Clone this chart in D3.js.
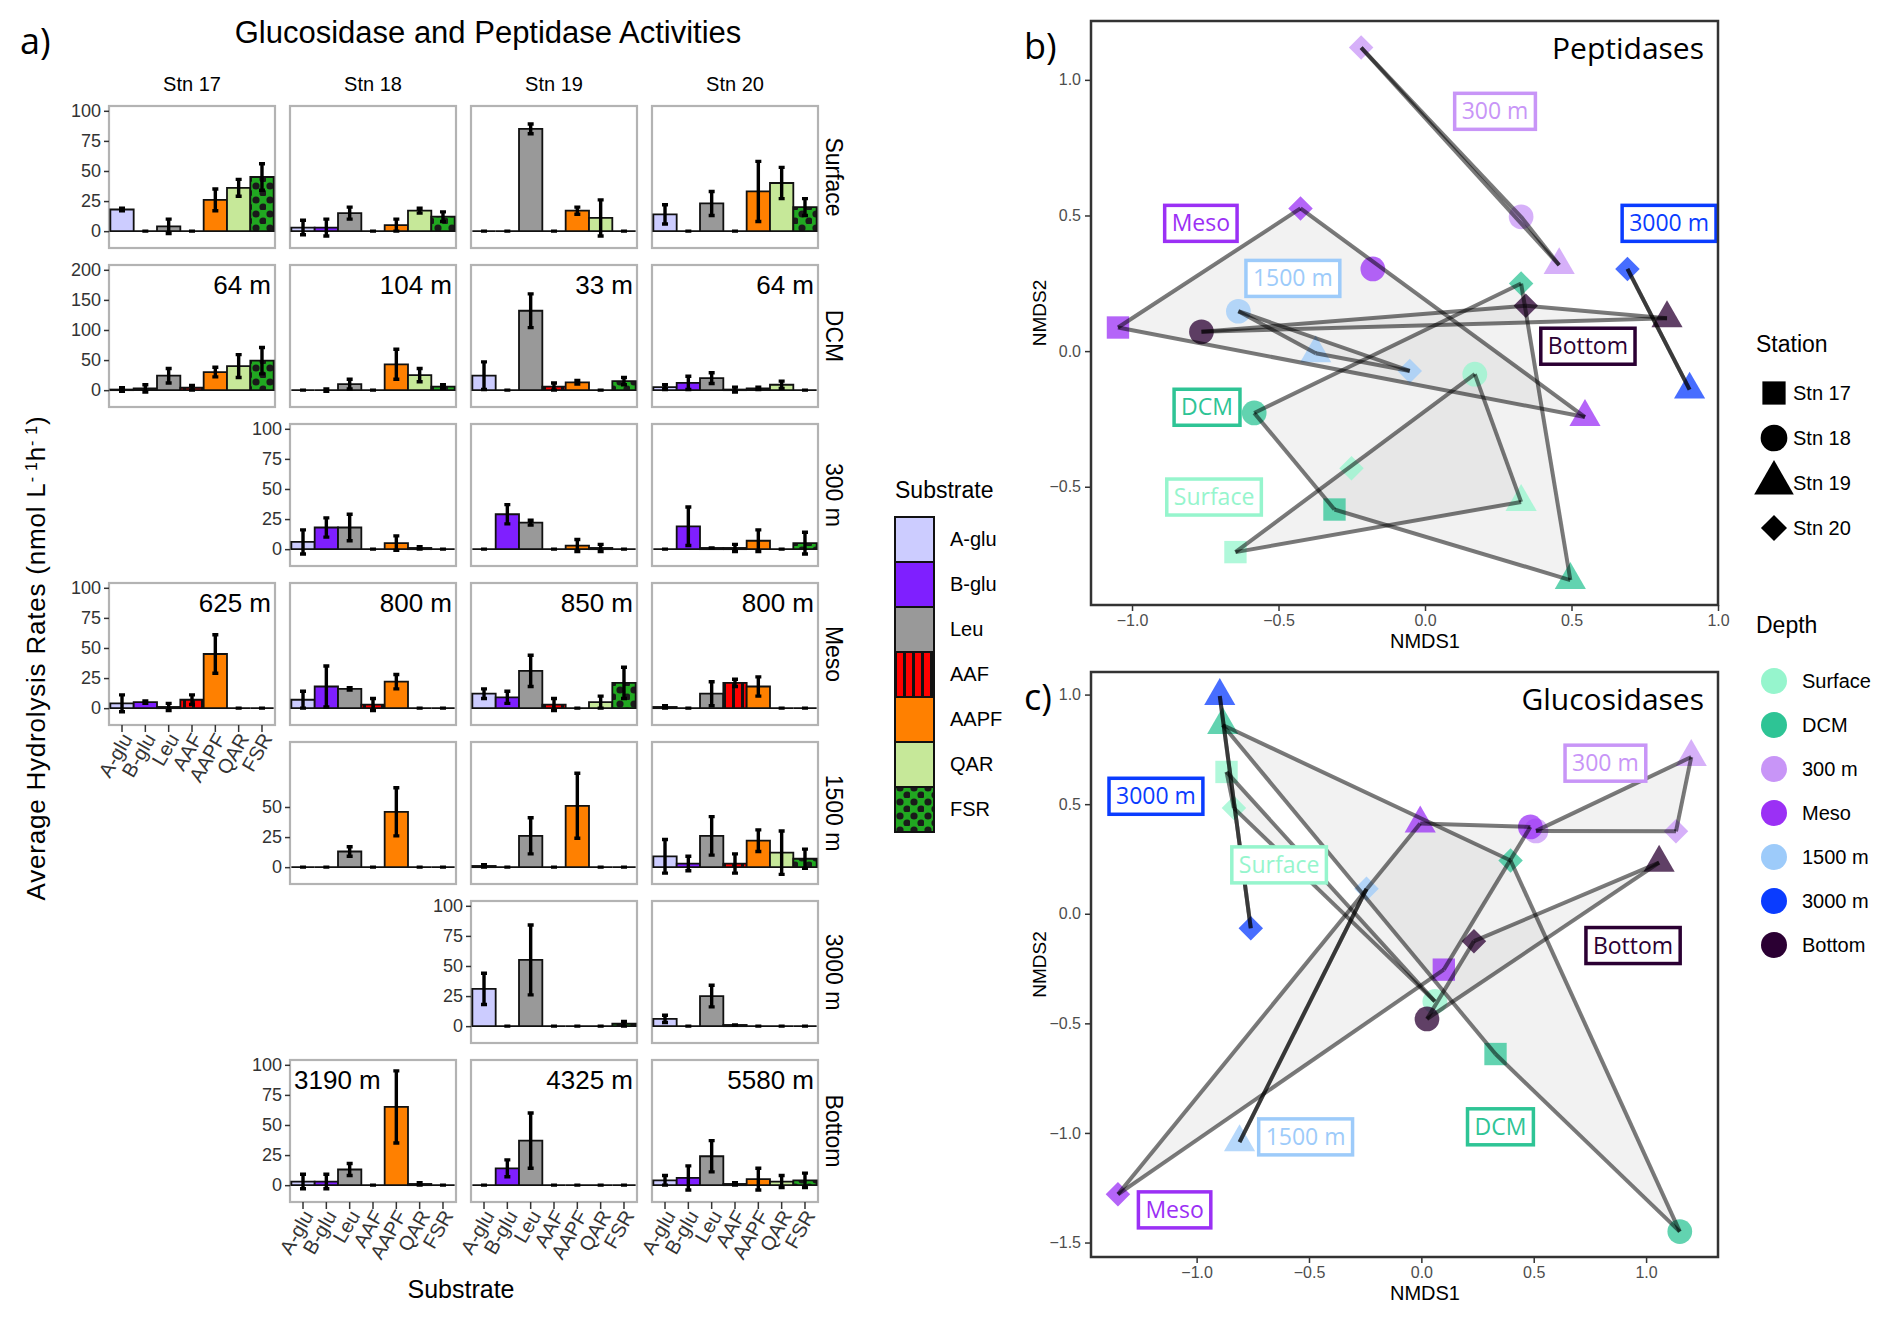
<!DOCTYPE html>
<html>
<head>
<meta charset="utf-8">
<script src="https://cdn.jsdelivr.net/npm/d3@7"></script>
<style>
  body { margin: 0; background: #fff; }
  svg text { font-family: "Liberation Sans", Arial, sans-serif; }
  .nar { font-family: "Liberation Sans Narrow", "Arial Narrow", "Liberation Sans", sans-serif; }
  .hum { font-family: "Open Sans", "Noto Sans", sans-serif; }
</style>
</head>
<body>
<svg id="fig" width="1892" height="1326"></svg>
<script>
// ---- data ----
const substrates = ["A-glu", "B-glu", "Leu", "AAF", "AAPF", "QAR", "FSR"]
const subFill = ["#ccccff", "#7f1fff", "#999999", "url(#stripes)", "#ff8000", "#c6e899", "url(#dots)"]
const stations = ["Stn 17", "Stn 18", "Stn 19", "Stn 20"]
const depths = ["Surface", "DCM", "300 m", "Meso", "1500 m", "3000 m", "Bottom"]
const depthColors = ["#96f5cd", "#2ec495", "#c895f7", "#9b30f5", "#9dcbfa", "#0a3cff", "#2b0033"]

const rowMax = [100, 200, 100, 100, 100, 100, 100]
const rowTicks = [[0, 25, 50, 75, 100], [0, 50, 100, 150, 200], [0, 25, 50, 75, 100],
  [0, 25, 50, 75, 100], [0, 25, 50], [0, 25, 50, 75, 100], [0, 25, 50, 75, 100]]

// mean hydrolysis rate, [depth][station] -> 7 substrates (null = not sampled)
const rateMean = [
  [[18, 0, 4, 0, 26, 36, 45], [3, 3, 15, 0, 5, 17, 12], [0, 0, 85, 0, 17, 11, 0], [14, 0, 23, 0, 33, 40, 20]],
  [[1, 3, 24, 4, 30, 40, 49], [0, 0, 10, 0, 43, 25, 6], [24, 0, 132, 6, 13, 0, 15], [5, 12, 20, 1, 3, 9, 0]],
  [null, [6, 18, 18, 0, 5, 1, 0], [0, 29, 22, 0, 3, 1, 0], [0, 19, 1, 1, 7, 0, 5]],
  [[4, 5, 1, 7, 45, 0, 0], [7, 18, 16, 3, 22, 0, 0], [12, 9, 31, 3, 0, 5, 21], [1, 0, 12, 21, 18, 0, 0]],
  [null, [0, 0, 13, 0, 46, 0, 0], [1, 0, 26, 0, 51, 0, 0], [9, 3, 26, 3, 22, 12, 7]],
  [null, null, [31, 0, 55, 0, 0, 0, 2], [6, 0, 25, 1, 0, 0, 0]],
  [null, [3, 3, 13, 0, 65, 1, 0], [0, 14, 37, 0, 0, 0, 0], [4, 6, 24, 1, 5, 3, 4]]
]
const rateErr = [
  [[1, 0, 6, 0, 9, 7, 11], [6, 7, 5, 0, 5, 2, 4], [0, 0, 4, 0, 3, 15, 0], [8, 0, 10, 0, 25, 13, 7]],
  [[3, 6, 12, 4, 8, 19, 22], [0, 2, 8, 0, 25, 11, 3], [23, 0, 28, 6, 3, 0, 6], [4, 11, 9, 4, 2, 6, 0]],
  [null, [10, 8, 11, 0, 6, 1, 0], [0, 8, 2, 0, 5, 3, 0], [0, 16, 0, 3, 9, 0, 9]],
  [[7, 1, 3, 4, 16, 0, 0], [7, 17, 1, 5, 6, 0, 0], [4, 5, 13, 5, 0, 5, 13], [1, 0, 10, 3, 8, 0, 0]],
  [null, [0, 0, 4, 0, 20, 0, 0], [1, 0, 15, 0, 27, 0, 0], [14, 6, 16, 8, 9, 18, 8]],
  [null, null, [13, 0, 29, 0, 0, 0, 2], [3, 0, 9, 0, 0, 0, 0]],
  [null, [6, 6, 5, 0, 30, 1, 0], [0, 7, 23, 0, 0, 0, 0], [4, 10, 13, 1, 9, 5, 6]]
]
const sampleDepth = [
  [null, null, null, null],
  ["64 m", "104 m", "33 m", "64 m"],
  [null, null, null, null],
  ["625 m", "800 m", "850 m", "800 m"],
  [null, null, null, null],
  [null, null, null, null],
  [null, "3190 m", "4325 m", "5580 m"]
]
const leftDepthLabels = ["3190 m"]

// NMDS scores: [depth, station, NMDS1, NMDS2]
const pepNMDS = [
  ["Surface", "Stn 17", -0.647, -0.741], ["Surface", "Stn 18", 0.170, -0.085],
  ["Surface", "Stn 19", 0.328, -0.556], ["Surface", "Stn 20", -0.251, -0.432],
  ["DCM", "Stn 17", -0.309, -0.584], ["DCM", "Stn 18", -0.583, -0.228],
  ["DCM", "Stn 19", 0.496, -0.844], ["DCM", "Stn 20", 0.328, 0.249],
  ["300 m", "Stn 18", 0.328, 0.495], ["300 m", "Stn 19", 0.458, 0.317], ["300 m", "Stn 20", -0.218, 1.119],
  ["Meso", "Stn 17", -1.048, 0.087], ["Meso", "Stn 18", -0.178, 0.303],
  ["Meso", "Stn 19", 0.546, -0.243], ["Meso", "Stn 20", -0.425, 0.526],
  ["1500 m", "Stn 18", -0.637, 0.147], ["1500 m", "Stn 19", -0.373, -0.008], ["1500 m", "Stn 20", -0.052, -0.073],
  ["3000 m", "Stn 19", 0.903, -0.142], ["3000 m", "Stn 20", 0.691, 0.303],
  ["Bottom", "Stn 18", -0.763, 0.071], ["Bottom", "Stn 19", 0.826, 0.121], ["Bottom", "Stn 20", 0.344, 0.167]
]
const gluNMDS = [
  ["Surface", "Stn 17", -0.867, 0.647], ["Surface", "Stn 18", 0.060, -0.400], ["Surface", "Stn 20", -0.834, 0.482],
  ["DCM", "Stn 17", 0.330, -0.640], ["DCM", "Stn 18", 1.150, -1.450],
  ["DCM", "Stn 19", -0.884, 0.861], ["DCM", "Stn 20", 0.397, 0.243],
  ["300 m", "Stn 18", 0.510, 0.378], ["300 m", "Stn 19", 1.201, 0.715], ["300 m", "Stn 20", 1.133, 0.376],
  ["Meso", "Stn 17", 0.100, -0.255], ["Meso", "Stn 18", 0.485, 0.396],
  ["Meso", "Stn 19", -0.005, 0.412], ["Meso", "Stn 20", -1.350, -1.280],
  ["1500 m", "Stn 19", -0.809, -1.042], ["1500 m", "Stn 20", -0.244, 0.114],
  ["3000 m", "Stn 19", -0.897, 0.994], ["3000 m", "Stn 20", -0.759, -0.066],
  ["Bottom", "Stn 18", 0.025, -0.480], ["Bottom", "Stn 19", 1.058, 0.233], ["Bottom", "Stn 20", 0.234, -0.125]
]
// group label boxes: [depth, NMDS1, NMDS2]
const pepLabels = [["300 m", 0.239, 0.884], ["Meso", -0.765, 0.471], ["1500 m", -0.451, 0.268],
  ["3000 m", 0.833, 0.471], ["Bottom", 0.556, 0.018], ["DCM", -0.744, -0.207], ["Surface", -0.72, -0.538]]
const gluLabels = [["300 m", 0.819, 0.687], ["3000 m", -1.181, 0.536], ["Surface", -0.633, 0.223],
  ["Bottom", 0.942, -0.145], ["DCM", 0.352, -0.972], ["1500 m", -0.515, -1.018], ["Meso", -1.098, -1.351]]

// ---- drawing ----
const svg = d3.select("#fig")
const defs = svg.append("defs")
const stripes = defs.append("pattern").attr("id", "stripes").attr("patternUnits", "userSpaceOnUse")
  .attr("width", 9).attr("height", 9)
stripes.append("rect").attr("width", 9).attr("height", 9).attr("fill", "#ff0000")
stripes.append("rect").attr("x", 3).attr("width", 3).attr("height", 9).attr("fill", "#111")
const dots = defs.append("pattern").attr("id", "dots").attr("patternUnits", "userSpaceOnUse")
  .attr("width", 14).attr("height", 14)
dots.append("rect").attr("width", 14).attr("height", 14).attr("fill", "#21a821")
dots.append("circle").attr("cx", 4).attr("cy", 4).attr("r", 3.6).attr("fill", "#1a1a1a")
dots.append("circle").attr("cx", 11).attr("cy", 11).attr("r", 3.6).attr("fill", "#1a1a1a")

const A = {x0: 109, y0: 106, w: 166, h: 142, dx: 181, dy: 159}

svg.append("text").attr("class", "hum").attr("x", 20).attr("y", 54).attr("font-size", 36).text("a)")
svg.append("text").attr("class", "nar").attr("x", 488).attr("y", 43).attr("font-size", 31)
  .attr("text-anchor", "middle").text("Glucosidase and Peptidase Activities")

stations.forEach((s, j) => {
  svg.append("text").attr("class", "nar").attr("x", A.x0 + j * A.dx + A.w / 2).attr("y", 91)
    .attr("font-size", 20).attr("text-anchor", "middle").text(s)
})

depths.forEach((dp, i) => {
  const top = A.y0 + i * A.dy
  const m = rowMax[i]
  const y = d3.scaleLinear().domain([-0.14 * m, 1.04 * m]).range([top + A.h, top])
  const firstCol = rateMean[i].findIndex(d => d)
  rateMean[i].forEach((vals, j) => {
    if (!vals) return
    const left = A.x0 + j * A.dx
    const x = d3.scaleBand().domain(substrates).range([left + 1, left + A.w - 1]).paddingInner(0).paddingOuter(0.015)
    const g = svg.append("g")
    g.append("rect").attr("x", left).attr("y", top).attr("width", A.w).attr("height", A.h)
      .attr("fill", "#fff").attr("stroke", "#b3b3b3").attr("stroke-width", 2.2)
    const errs = rateErr[i][j]
    g.selectAll("path.bar").data(vals).join("path").attr("class", "bar")
      .attr("d", (v, k) => {
        const x0 = x(substrates[k]), x1 = x0 + x.bandwidth()
        return `M${x0},${y(0)}H${x1}V${y(v)}H${x0}Z`
      })
      .attr("fill", (v, k) => subFill[k]).attr("stroke", "#111").attr("stroke-width", 1.8)
    g.selectAll("path.err").data(vals).join("path").attr("class", "err")
      .attr("d", (v, k) => {
        const cx = x(substrates[k]) + x.bandwidth() / 2
        const lo = y(v - errs[k]), hi = y(v + errs[k])
        return `M${cx},${lo}V${hi}M${cx - 3},${lo}H${cx + 3}M${cx - 3},${hi}H${cx + 3}`
      })
      .attr("fill", "none").attr("stroke", "#000").attr("stroke-width", 3.4)

    const lab = sampleDepth[i][j]
    if (lab) {
      const isLeft = leftDepthLabels.includes(lab)
      g.append("text").attr("class", "nar").attr("font-size", 26)
        .attr("x", isLeft ? left + 4 : left + A.w - 4).attr("y", top + 29)
        .attr("text-anchor", isLeft ? "start" : "end").text(lab)
    }
    if (j === firstCol) {
      const ax = svg.append("g").attr("transform", `translate(${left},0)`)
        .call(d3.axisLeft(y).tickValues(rowTicks[i]).tickSize(5).tickPadding(3))
      ax.select(".domain").remove()
      ax.selectAll("line").attr("stroke", "#333").attr("stroke-width", 1.5)
      ax.selectAll("text").attr("class", "nar").attr("font-size", 18).attr("fill", "#333")
    }
    const below = rateMean.slice(i + 1).some(r => r[j])
    if (!below) {
      const ax = svg.append("g").attr("transform", `translate(0,${top + A.h})`)
        .call(d3.axisBottom(x).tickSize(7).tickPadding(4))
      ax.select(".domain").remove()
      ax.selectAll("line").attr("stroke", "#333").attr("stroke-width", 1.5)
      ax.selectAll("text").attr("class", "nar").attr("font-size", 20).attr("fill", "#333")
        .attr("text-anchor", "end").attr("dy", "0.35em")
        .attr("transform", "translate(5,10) rotate(-60)").attr("y", 0).attr("x", 0)
    }
  })
  svg.append("text").attr("font-size", 23)
    .attr("transform", `translate(826,${top + A.h / 2}) rotate(90)`)
    .attr("text-anchor", "middle").text(dp)
})

const yt = svg.append("text").attr("font-size", 26).attr("letter-spacing", 0.8).attr("text-anchor", "middle")
  .attr("transform", "translate(45,658) rotate(-90)")
yt.append("tspan").text("Average Hydrolysis Rates (nmol L")
yt.append("tspan").attr("font-size", 16).attr("baseline-shift", "super").text("- 1")
yt.append("tspan").text("h")
yt.append("tspan").attr("font-size", 16).attr("baseline-shift", "super").text("- 1")
yt.append("tspan").text(")")
svg.append("text").attr("class", "nar").attr("x", 461).attr("y", 1298).attr("font-size", 25)
  .attr("text-anchor", "middle").text("Substrate")

// substrate legend
svg.append("text").attr("x", 895).attr("y", 498).attr("font-size", 23).text("Substrate")
substrates.forEach((s, k) => {
  const yy = 517 + k * 45
  svg.append("rect").attr("x", 895).attr("y", yy).attr("width", 39).attr("height", 45)
    .attr("fill", subFill[k]).attr("stroke", "#111").attr("stroke-width", 2)
  svg.append("text").attr("x", 950).attr("y", yy + 29).attr("font-size", 20).text(s)
})

// ---- NMDS panels ----
const diamondPath = d3.symbol(d3.symbolSquare, 300)()
const shapeOf = {
  "Stn 17": {p: d3.symbol(d3.symbolSquare, 500)(), r: 0},
  "Stn 18": {p: d3.symbol(d3.symbolCircle, 480)(), r: 0},
  "Stn 19": {p: d3.symbol(d3.symbolTriangle, 420)(), r: 0},
  "Stn 20": {p: diamondPath, r: 45}
}
const colorOf = d3.scaleOrdinal(depths, depthColors)

function nmdsPanel(fr, xdom, ydom, xt, ytk, pts, labels, title, tag) {
  const xs = d3.scaleLinear().domain(xdom).range([fr.l, fr.r])
  const ys = d3.scaleLinear().domain(ydom).range([fr.b, fr.t])
  const g = svg.append("g")
  const hulls = []
  d3.group(pts, d => d[0]).forEach(arr => {
    const xy = arr.map(d => [xs(d[2]), ys(d[3])])
    hulls.push(xy.length >= 3 ? d3.polygonHull(xy) : xy)
  })
  g.selectAll("path.hull").data(hulls.filter(h => h.length >= 3)).join("path")
    .attr("d", h => "M" + h.join("L") + "Z").attr("fill", "#bdbdbd").attr("fill-opacity", 0.2)
  g.selectAll("path.pt").data(pts).join("path")
    .attr("d", d => shapeOf[d[1]].p)
    .attr("transform", d => `translate(${xs(d[2])},${ys(d[3])}) rotate(${shapeOf[d[1]].r})`)
    .attr("fill", d => colorOf(d[0])).attr("fill-opacity", 0.75)
  const segs = []
  hulls.forEach(h => h.forEach((p, k) => segs.push([p, h[(k + 1) % h.length]])))
  g.selectAll("line.edge").data(segs).join("line")
    .attr("x1", d => d[0][0]).attr("y1", d => d[0][1]).attr("x2", d => d[1][0]).attr("y2", d => d[1][1])
    .attr("stroke", "#000").attr("stroke-opacity", 0.52).attr("stroke-width", 4)

  labels.forEach(l => {
    const c = colorOf(l[0])
    const t = g.append("text").attr("class", "hum").attr("font-size", 23).attr("fill", c)
      .attr("text-anchor", "middle").attr("x", xs(l[1])).attr("y", ys(l[2]) + 8).text(l[0])
    const w = t.node().getComputedTextLength()
    g.insert("rect", () => t.node()).attr("x", xs(l[1]) - w / 2 - 7).attr("y", ys(l[2]) - 18)
      .attr("width", w + 14).attr("height", 36).attr("fill", "#fff").attr("stroke", c).attr("stroke-width", 3.5)
  })

  svg.append("rect").attr("x", fr.l).attr("y", fr.t).attr("width", fr.r - fr.l).attr("height", fr.b - fr.t)
    .attr("fill", "none").attr("stroke", "#333").attr("stroke-width", 2.5)
  const ax = svg.append("g").attr("transform", `translate(0,${fr.b})`)
    .call(d3.axisBottom(xs).tickValues(xt).tickFormat(d3.format(".1f")).tickSize(6).tickPadding(4))
  const ay = svg.append("g").attr("transform", `translate(${fr.l},0)`)
    .call(d3.axisLeft(ys).tickValues(ytk).tickFormat(d3.format(".1f")).tickSize(6).tickPadding(4));
  [ax, ay].forEach(a => {
    a.select(".domain").remove()
    a.selectAll("line").attr("stroke", "#333").attr("stroke-width", 1.5)
    a.selectAll("text").attr("class", "nar").attr("font-size", 16).attr("fill", "#4d4d4d")
  })
  svg.append("text").attr("x", 1425).attr("y", fr.b + 43).attr("font-size", 20)
    .attr("text-anchor", "middle").text("NMDS1")
  svg.append("text").attr("font-size", 19).attr("text-anchor", "middle")
    .attr("transform", `translate(1046,${(fr.t + fr.b) / 2}) rotate(-90)`).text("NMDS2")
  svg.append("text").attr("class", "hum").attr("x", fr.r - 14).attr("y", fr.t + 38).attr("font-size", 30)
    .attr("text-anchor", "end").text(title)
  svg.append("text").attr("class", "hum").attr("x", 1024).attr("y", fr.t + 38).attr("font-size", 36).text(tag)
}

nmdsPanel({l: 1091, r: 1718, t: 21, b: 605}, [-1.14, 1.0], [-0.936, 1.217],
  [-1, -0.5, 0, 0.5, 1], [-0.5, 0, 0.5, 1], pepNMDS, pepLabels, "Peptidases", "b)")
nmdsPanel({l: 1091, r: 1718, t: 672, b: 1257}, [-1.47, 1.32], [-1.566, 1.103],
  [-1, -0.5, 0, 0.5, 1], [-1.5, -1, -0.5, 0, 0.5, 1], gluNMDS, gluLabels, "Glucosidases", "c)")

// station & depth legends
svg.append("text").attr("x", 1756).attr("y", 352).attr("font-size", 23).text("Station")
stations.forEach((s, k) => {
  const yy = 393 + k * 45
  svg.append("path").attr("d", k === 3 ? d3.symbol(d3.symbolSquare, 340)() :
      d3.symbol([d3.symbolSquare, d3.symbolCircle, d3.symbolTriangle][k], [540, 560, 680][k])())
    .attr("transform", `translate(1774,${yy}) rotate(${k === 3 ? 45 : 0})`).attr("fill", "#000")
  svg.append("text").attr("x", 1793).attr("y", yy + 7).attr("font-size", 20).text(s)
})
svg.append("text").attr("x", 1756).attr("y", 633).attr("font-size", 23).text("Depth")
depths.forEach((dp, k) => {
  const yy = 681 + k * 44
  svg.append("circle").attr("cx", 1774).attr("cy", yy).attr("r", 13).attr("fill", depthColors[k])
  svg.append("text").attr("x", 1802).attr("y", yy + 7).attr("font-size", 20).text(dp)
})
</script>
</body>
</html>
